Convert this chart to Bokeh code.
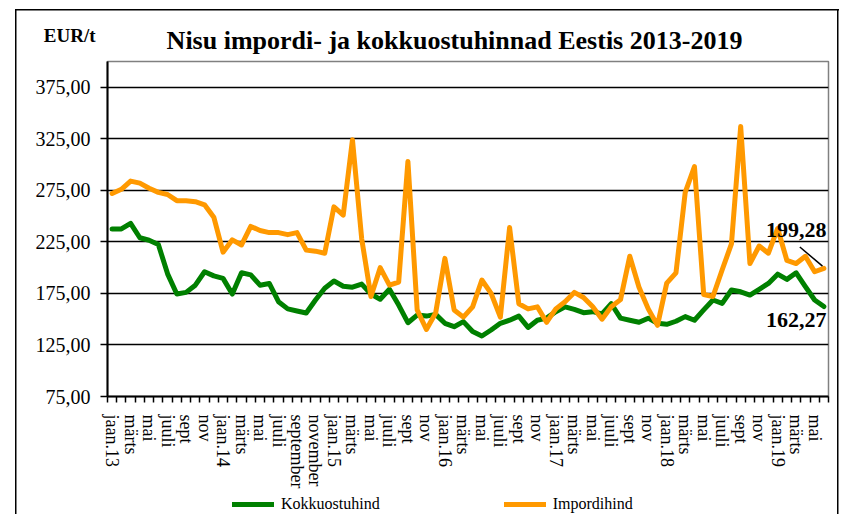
from bokeh.plotting import figure
from bokeh.layouts import column
from bokeh.models import (FixedTicker, Label, Legend, LegendItem,
                          Range1d, CustomJSTickFormatter, ColumnDataSource)
from bokeh.embed import file_html
from bokeh.resources import INLINE

# ---- data (monthly, jaan 2013 .. juuni 2019) ----
month_labels = [
    "jaan.13", "", "märts", "", "mai", "", "juuli", "", "sept", "", "nov", "",
    "jaan.14", "", "märts", "", "mai", "", "juuli", "", "september", "", "november", "",
    "jaan.15", "", "märts", "", "mai", "", "juuli", "", "sept", "", "nov", "",
    "jaan.16", "", "märts", "", "mai", "", "juuli", "", "sept", "", "nov", "",
    "jaan.17", "", "märts", "", "mai", "", "juuli", "", "sept", "", "nov", "",
    "jaan.18", "", "märts", "", "mai", "", "juuli", "", "sept", "", "nov", "",
    "jaan.19", "", "märts", "", "mai", "",
]

kokkuostuhind = [
    237.6, 237.6, 243.0, 229.0, 226.6, 222.5, 194.0, 174.4, 176.0, 183.0, 196.0, 192.0,
    189.6, 174.4, 195.0, 193.0, 183.0, 184.7, 167.0, 160.0, 158.0, 156.0, 168.6, 180.0,
    187.0, 182.0, 181.0, 184.0, 174.4, 169.3, 179.0, 163.7, 146.6, 154.0, 153.0, 154.7,
    146.0, 142.7, 147.6, 138.0, 133.7, 139.5, 146.0, 149.0, 153.0, 142.0, 149.0, 151.0,
    157.3, 162.0, 159.6, 156.3, 157.3, 155.0, 165.0, 151.0, 149.0, 147.0, 151.0, 146.0,
    145.0, 148.0, 152.5, 149.0, 159.0, 168.6, 165.3, 178.3, 176.6, 173.4, 179.0, 184.7,
    193.7, 188.6, 195.0, 181.5, 168.6, 162.27,
]

impordihind = [
    272.0, 276.0, 284.0, 282.0, 277.0, 273.0, 271.0, 265.0, 265.0, 264.0, 261.0, 249.0,
    215.0, 227.0, 222.0, 240.0, 236.0, 234.0, 234.0, 232.0, 234.0, 217.0, 216.0, 214.0,
    259.0, 251.0, 324.0, 228.0, 172.0, 200.0, 183.0, 186.0, 303.0, 159.0, 140.0, 156.0,
    209.0, 159.0, 152.0, 162.0, 188.0, 175.0, 152.0, 239.0, 165.0, 160.0, 162.0, 147.0,
    160.0, 167.0, 176.0, 171.0, 162.0, 150.0, 162.0, 169.0, 211.0, 181.0, 160.0, 144.0,
    185.0, 195.0, 273.0, 298.0, 174.0, 172.0, 198.0, 223.0, 337.0, 204.0, 221.0, 214.0,
    238.0, 207.0, 204.0, 211.0, 196.0, 199.28,
]

y_ticks = [75, 125, 175, 225, 275, 325, 375]

TITLE = "Nisu impordi- ja kokkuostuhinnad Eestis 2013-2019"
UNIT = "EUR/t"
SERIES = ["Kokkuostuhind", "Impordihind"]
COLORS = ["#008000", "#FF9900"]

n = len(kokkuostuhind)
idx = list(range(n))
src = ColumnDataSource(dict(x=idx, k=kokkuostuhind, i=impordihind))

FONT = "Liberation Serif"
W = 841
FL, FR = 107, 828          # horizontal extent of the plot frame (page px)

# ---------------- header (title + unit) ----------------
HEAD_H = 59
head = figure(width=W, height=HEAD_H, output_backend="svg", toolbar_location=None,
              x_range=Range1d(FL, FR), y_range=Range1d(0, HEAD_H),
              x_axis_location=None, y_axis_location="left", min_border=0)
head.outline_line_color = None
head.background_fill_alpha = 0
head.border_fill_alpha = 0
head.grid.visible = False
# the unit text sits left of the frame: shown as the single tick label of a bare axis
head.yaxis.ticker = FixedTicker(ticks=[HEAD_H - 35])
head.yaxis.formatter = CustomJSTickFormatter(args=dict(t=UNIT), code="return t;")
head.yaxis.axis_line_color = None
head.yaxis.major_tick_line_color = None
head.yaxis.minor_tick_line_color = None
head.yaxis.major_tick_out = 0
head.yaxis.major_tick_in = 0
head.yaxis.major_label_standoff = 12
head.yaxis.major_label_text_font = FONT
head.yaxis.major_label_text_font_size = "19px"
head.yaxis.major_label_text_font_style = "bold"
head.yaxis.major_label_text_color = "black"
head.add_layout(Label(x=454, y=HEAD_H - 40, text=TITLE, text_font=FONT,
                      text_font_size="26px", text_font_style="bold", text_color="black",
                      text_align="center", text_baseline="middle"))

# ---------------- main chart ----------------
p = figure(width=W, height=432, output_backend="svg", toolbar_location=None,
           x_range=Range1d(-0.5, n - 0.5), y_range=Range1d(75, 400),
           min_border_left=FL, min_border_right=W - FR, min_border_top=2, min_border_bottom=94)
p.background_fill_color = "white"
p.border_fill_alpha = 0
p.outline_line_color = "#808080"
p.outline_line_width = 1.5

p.xgrid.grid_line_color = None
p.ygrid.ticker = FixedTicker(ticks=y_ticks)
p.ygrid.grid_line_color = "black"
p.ygrid.grid_line_width = 1.5

p.yaxis.ticker = FixedTicker(ticks=y_ticks)
p.yaxis.formatter = CustomJSTickFormatter(code="return tick.toFixed(2).replace('.', ',');")
p.yaxis.major_label_text_font = FONT
p.yaxis.major_label_text_font_size = "20px"
p.yaxis.major_label_text_color = "black"
p.yaxis.major_tick_out = 7
p.yaxis.major_tick_in = 0
p.yaxis.major_tick_line_width = 1.5
p.yaxis.minor_tick_line_color = None
p.yaxis.major_label_standoff = 10
p.yaxis.axis_line_width = 2

label_pos = [i for i in idx if month_labels[i]]
p.xaxis.ticker = FixedTicker(ticks=label_pos, minor_ticks=[i - 0.5 for i in range(n + 1)])
p.xaxis.formatter = CustomJSTickFormatter(args=dict(labels=month_labels),
                                          code="return labels[Math.round(tick)] || '';")
p.xaxis.major_label_orientation = "vertical"
p.xaxis.major_label_text_font = FONT
p.xaxis.major_label_text_font_size = "18px"
p.xaxis.major_label_text_color = "black"
p.xaxis.major_tick_out = 0
p.xaxis.major_tick_in = 0
p.xaxis.minor_tick_out = 6
p.xaxis.minor_tick_in = 0
p.xaxis.minor_tick_line_color = "black"
p.xaxis.minor_tick_line_width = 1.5
p.xaxis.major_label_standoff = 12
p.xaxis.axis_line_width = 2

p.line("x", "k", source=src, line_color=COLORS[0], line_width=5,
       line_join="round", line_cap="round")
p.line("x", "i", source=src, line_color=COLORS[1], line_width=5,
       line_join="round", line_cap="round")

fmt = lambda v: f"{v:.2f}".replace(".", ",")
p.add_layout(Label(x=74.0, y=236.5, text=fmt(impordihind[-1]), text_font=FONT,
                   text_font_size="22px", text_font_style="bold", text_align="center",
                   text_baseline="middle", text_color="black"))
p.add_layout(Label(x=74.0, y=149.5, text=fmt(kokkuostuhind[-1]), text_font=FONT,
                   text_font_size="22px", text_font_style="bold", text_align="center",
                   text_baseline="middle", text_color="black"))
p.segment(x0=[74.4], y0=[220.0], x1=[76.85], y1=[201.5], line_color="black", line_width=1.5)

# ---------------- legend strip ----------------
LEG_H = 23
leg = figure(width=W, height=LEG_H, output_backend="svg", toolbar_location=None,
             x_range=Range1d(FL, FR), y_range=Range1d(0, LEG_H),
             x_axis_location=None, y_axis_location=None, min_border=0)
leg.outline_line_color = None
leg.background_fill_alpha = 0
leg.border_fill_alpha = 0
leg.grid.visible = False
items = []
for name, col, key in zip(SERIES, COLORS, ["k", "i"]):
    # same series, but outside this strip's visible range: only the legend sample shows
    r = leg.line("x", key, source=src, line_color=col, line_width=5, line_cap="round")
    items.append(LegendItem(label=name, renderers=[r]))
leg.add_layout(Legend(items=items, orientation="horizontal", location=(232 - FL, 1),
                      spacing=124, glyph_width=42, glyph_height=16, label_standoff=7,
                      padding=0, margin=0, border_line_color=None, background_fill_alpha=0,
                      label_text_font=FONT, label_text_font_size="16px",
                      label_text_color="black"))

layout = column(head, p, leg, spacing=0)
# outer chart frame painted behind the transparent canvas borders
layout.styles = {"background": (
    "linear-gradient(#000,#000) 15px 9px / 1.5px 600px no-repeat, "
    "linear-gradient(#000,#000) 15px 9px / 824px 1.5px no-repeat, "
    "linear-gradient(#000,#000) 837px 9px / 1.5px 600px no-repeat, #fff")}

open("out.html", "w").write(file_html(layout, INLINE))
